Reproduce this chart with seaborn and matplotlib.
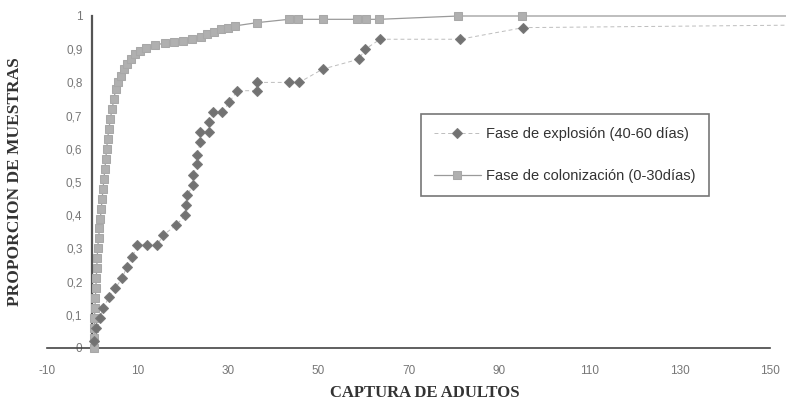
import matplotlib
matplotlib.use("Agg")
import matplotlib.pyplot as plt
import numpy as np
import pandas as pd
import seaborn as sns

# ---- data ----
colon_x = [0.3, 0.4, 0.5, 0.5, 0.6, 0.7, 0.8, 0.9, 1.0, 1.1, 1.2, 1.4, 1.6, 1.8,
           2.0, 2.2, 2.4, 2.6, 2.8, 3.0, 3.2, 3.4, 3.7, 4.0, 4.4, 4.8, 5.2, 5.8,
           6.4, 7.0, 7.8, 8.6, 9.4, 10.5, 12, 14, 16, 18, 20, 22, 24, 25.5, 27,
           28.5, 30, 31.5, 36.5, 43.5, 45.5, 51, 58.5, 60.5, 63.5, 81, 95, 175]
colon_y = [0.0, 0.03, 0.06, 0.09, 0.12, 0.15, 0.18, 0.21, 0.24, 0.27, 0.30, 0.33,
           0.36, 0.39, 0.42, 0.45, 0.48, 0.51, 0.54, 0.57, 0.60, 0.63, 0.66, 0.69,
           0.72, 0.75, 0.78, 0.80, 0.82, 0.84, 0.855, 0.87, 0.885, 0.895, 0.905,
           0.913, 0.918, 0.922, 0.926, 0.93, 0.937, 0.945, 0.952, 0.96, 0.965,
           0.97, 0.98, 0.99, 0.99, 0.99, 0.99, 0.99, 0.99, 1.0, 1.0, 1.0]

expl_x = [0.4, 0.9, 1.8, 2.4, 3.8, 5.1, 6.6, 7.7, 8.9, 10.0, 12.2, 14.4, 15.7,
          18.6, 20.6, 20.8, 21.0, 22.3, 22.3, 23.2, 23.2, 23.9, 23.9, 25.9, 25.9,
          26.8, 28.8, 30.3, 32.1, 36.5, 36.5, 43.6, 45.8, 51.0, 59.0, 60.4, 63.7,
          81.4, 95.4, 175]
expl_y = [0.02, 0.06, 0.09, 0.12, 0.155, 0.18, 0.21, 0.245, 0.275, 0.31, 0.31,
          0.31, 0.34, 0.37, 0.40, 0.43, 0.46, 0.49, 0.52, 0.555, 0.58, 0.62, 0.65,
          0.65, 0.68, 0.71, 0.71, 0.74, 0.775, 0.775, 0.80, 0.80, 0.80, 0.84, 0.87,
          0.90, 0.93, 0.93, 0.965, 0.975]

x_ticks = [-10, 10, 30, 50, 70, 90, 110, 130, 150]
y_ticks = [0, 0.1, 0.2, 0.3, 0.4, 0.5, 0.6, 0.7, 0.8, 0.9, 1.0]
y_tick_labels = ["0", "0,1", "0,2", "0,3", "0,4", "0,5", "0,6", "0,7", "0,8", "0,9", "1"]

lab_expl = "Fase de explosión (40-60 días)"
lab_colon = "Fase de colonización (0-30días)"

df = pd.concat([
    pd.DataFrame({"x": expl_x, "y": expl_y, "serie": lab_expl}),
    pd.DataFrame({"x": colon_x, "y": colon_y, "serie": lab_colon}),
], ignore_index=True)

sns.set_style("white")
plt.rcParams["font.family"] = ["Liberation Sans", "DejaVu Sans"]

fig = plt.figure(figsize=(7.86, 4.03), dpi=100)
ax = fig.add_axes([47 / 786, 55 / 403, 739 / 786, 348 / 403])

sns.lineplot(data=df, x="x", y="y", hue="serie", style="serie",
             hue_order=[lab_expl, lab_colon], style_order=[lab_expl, lab_colon],
             markers={lab_expl: "D", lab_colon: "s"},
             dashes={lab_expl: (4, 3), lab_colon: ""},
             palette={lab_expl: "#bdbdbd", lab_colon: "#b4b4b4"},
             estimator=None, sort=False, legend=False, ax=ax,
             linewidth=0.9, markersize=5.5)

l_expl, l_colon = ax.lines[0], ax.lines[1]
l_expl.set_markerfacecolor("#727272")
l_expl.set_markeredgecolor("#7a7a7a")
l_expl.set_markersize(5)
l_expl.set_linewidth(0.7)
l_colon.set_markerfacecolor("#b0b0b0")
l_colon.set_markeredgecolor("#a8a8a8")
l_colon.set_markersize(5.5)
l_colon.set_color("#9a9a9a")
for l in (l_expl, l_colon):
    l.set_clip_on(False)
l_colon.set_zorder(3)
l_expl.set_zorder(4)

ax.set_xlim(-10, -10 + 739 / 4.52)
ax.set_ylim(0, 348 / 332)

ax.spines["top"].set_visible(False)
ax.spines["right"].set_visible(False)
ax.spines["left"].set_position(("data", 0))
ax.spines["left"].set_bounds(0, 1)
ax.spines["left"].set_color("#555555")
ax.spines["left"].set_linewidth(1.6)
ax.spines["bottom"].set_bounds(-10, 150)
ax.spines["bottom"].set_color("#444444")
ax.spines["bottom"].set_linewidth(1.2)
ax.spines["left"].set_zorder(2)

ax.set_xticks(x_ticks)
ax.set_xticklabels([str(v) for v in x_ticks])
ax.set_yticks(y_ticks)
ax.set_yticklabels(y_tick_labels)
ax.tick_params(axis="x", direction="inout", length=4, width=0.6, color="#999999",
               pad=10, labelsize=8.5, labelcolor="#777777")
ax.tick_params(axis="y", direction="inout", length=4, width=0.6, color="#999999",
               pad=5, labelsize=8.5, labelcolor="#777777")
ax.grid(False)
ax.set_xlabel("")
ax.set_ylabel("")

fig.text(425 / 786, 1 - 393 / 403, "CAPTURA DE ADULTOS", ha="center", va="center",
         family=["Liberation Serif", "DejaVu Serif"], fontweight="bold",
         fontsize=12, color="#333333")
fig.text(15 / 786, 1 - 182 / 403, "PROPORCION DE MUESTRAS", ha="center", va="center",
         rotation=90, family=["Liberation Serif", "DejaVu Serif"], fontweight="bold",
         fontsize=12.5, color="#333333")

leg = fig.legend([l_expl, l_colon], [lab_expl, lab_colon],
                 loc="center", bbox_to_anchor=(407 / 786, 1 - 197 / 403, 316 / 786, 84 / 403),
                 frameon=True, fancybox=False, shadow=False, fontsize=10.5,
                 labelspacing=1.9, handlelength=3.2, handletextpad=0.4,
                 borderpad=0.9, borderaxespad=0, labelcolor="#333333")
leg.get_frame().set_edgecolor("#555555")
leg.get_frame().set_linewidth(1.2)

fig.savefig("out.png", dpi=100)
